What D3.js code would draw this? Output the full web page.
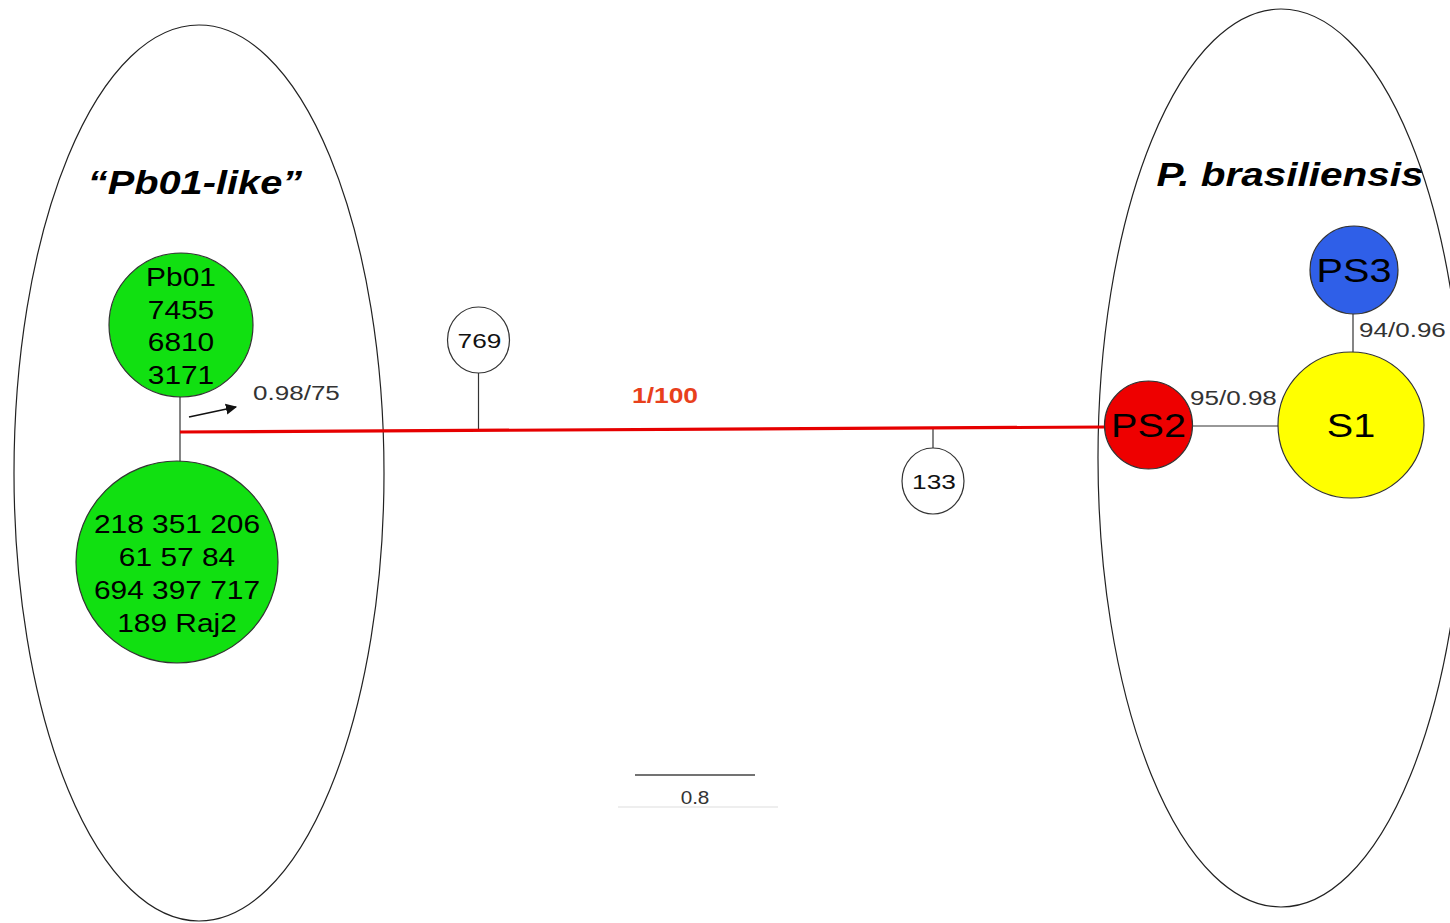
<!doctype html>
<html>
<head>
<meta charset="utf-8">
<title>Pb01-like vs P. brasiliensis</title>
<script src="https://cdn.jsdelivr.net/npm/d3@7"></script>
<style>
  body { margin:0; background:#fff; }
  text { font-family: "Liberation Sans", Arial, sans-serif; }
</style>
</head>
<body>
<script>
// ---- data ----
var groupNames = ["\u201CPb01-like\u201D", "P. brasiliensis"];
var pb01Top = ["Pb01", "7455", "6810", "3171"];
var pb01Bottom = ["218 351 206", "61 57 84", "694 397 717", "189 Raj2"];
var braNodes = ["PS2", "S1", "PS3"];
var braColors = ["#ee0000", "#ffff00", "#2f5fe8"];
var sideNodes = ["769", "133"];
var sidePos = [1.99, 5.02];        // distance along main branch
var mainBranch = 6.17;            // length of the red branch
var supportLabels = ["0.98/75", "1/100", "95/0.98", "94/0.96"];
var scaleBar = 0.8;

var w = 1450, h = 923;
var svg = d3.select("body").append("svg").attr("width", w).attr("height", h);

// branch length scale: 0.8 units = 120 px
var x = d3.scaleLinear().domain([0, 1]).range([0, 150]);
var x0 = 180;

// text in the original figure is a bit stretched sideways
function label(px, py, txt, fs, sx, anchor, fill, bold, italic) {
  return svg.append("text")
    .attr("transform", "translate(" + px + "," + py + ") scale(" + sx + ",1)")
    .attr("text-anchor", anchor)
    .attr("font-size", fs)
    .attr("font-weight", bold ? "bold" : "normal")
    .attr("font-style", italic ? "italic" : "normal")
    .attr("fill", fill)
    .text(txt);
}

// group ellipses
svg.append("ellipse").attr("cx", 199).attr("cy", 473).attr("rx", 185).attr("ry", 448)
   .attr("fill", "none").attr("stroke", "#222").attr("stroke-width", 1.2);
svg.append("ellipse").attr("cx", 1281).attr("cy", 458).attr("rx", 183).attr("ry", 449)
   .attr("fill", "none").attr("stroke", "#222").attr("stroke-width", 1.2);

label(195, 194, groupNames[0], 34, 1.17, "middle", "#000", true, true);
label(1290, 186, groupNames[1], 34, 1.19, "middle", "#000", true, true);

// left stem
svg.append("line").attr("x1", x0).attr("x2", x0).attr("y1", 396).attr("y2", 462)
   .attr("stroke", "#333").attr("stroke-width", 1.2);

// side nodes (769 above, 133 below)
var ySlope = function(v) { return 432 - v / mainBranch * 5; };
sideNodes.forEach(function(n, i) {
  var cx = x0 + x(sidePos[i]);
  var up = i == 0;
  var cy = up ? 340 : 481;
  svg.append("line").attr("x1", cx).attr("x2", cx)
     .attr("y1", up ? cy + 33 : ySlope(sidePos[i]) + 1)
     .attr("y2", up ? ySlope(sidePos[i]) : cy - 33)
     .attr("stroke", "#333").attr("stroke-width", 1.2);
  svg.append("ellipse").attr("cx", cx).attr("cy", cy).attr("rx", 31).attr("ry", 33)
     .attr("fill", "#fff").attr("stroke", "#333").attr("stroke-width", 1.2);
  label(cx + 1, cy + 8, n, 21, 1.25, "middle", "#111");
});

// main red branch
svg.append("line").attr("x1", x0).attr("y1", ySlope(0))
   .attr("x2", x0 + x(mainBranch)).attr("y2", ySlope(mainBranch))
   .attr("stroke", "#e60000").attr("stroke-width", 3.2);

label(665, 403, supportLabels[1], 22, 1.2, "middle", "#e8401c", true);

// arrow + support for Pb01-like
svg.append("defs").append("marker").attr("id", "ah").attr("viewBox", "0 0 10 10")
   .attr("refX", 9).attr("refY", 5).attr("markerWidth", 7).attr("markerHeight", 7)
   .attr("orient", "auto")
   .append("path").attr("d", "M0,0 L10,5 L0,10 z").attr("fill", "#111");
svg.append("line").attr("x1", 189).attr("y1", 417).attr("x2", 236).attr("y2", 407)
   .attr("stroke", "#111").attr("stroke-width", 1.6).attr("marker-end", "url(#ah)");
label(253, 400, supportLabels[0], 21, 1.24, "start", "#333");

// green clusters
function cluster(cx, cy, r, lines, fs, y0, step) {
  svg.append("circle").attr("cx", cx).attr("cy", cy).attr("r", r)
     .attr("fill", "#11e011").attr("stroke", "#333").attr("stroke-width", 1.2);
  lines.forEach(function(d, i) {
    label(cx, y0 + i * step, d, fs, 1.15, "middle", "#000");
  });
}
cluster(181, 325, 72, pb01Top, 26, 286, 32.5);
cluster(177, 562, 101, pb01Bottom, 26, 533, 33);

// P. brasiliensis nodes
var ps2 = {x: x0 + x(mainBranch) + 43, y: 425, r: 44};
var s1 = {x: 1351, y: 425, r: 73};
var ps3 = {x: 1354, y: 270, r: 44};
svg.append("line").attr("x1", ps2.x + ps2.r).attr("x2", s1.x - s1.r).attr("y1", 426).attr("y2", 426)
   .attr("stroke", "#333").attr("stroke-width", 1.2);
svg.append("line").attr("x1", 1353).attr("x2", 1353).attr("y1", ps3.y + ps3.r).attr("y2", s1.y - s1.r)
   .attr("stroke", "#333").attr("stroke-width", 1.2);
[ps2, s1, ps3].forEach(function(n, i) {
  svg.append("circle").attr("cx", n.x).attr("cy", n.y).attr("r", n.r)
     .attr("fill", braColors[i]).attr("stroke", "#333").attr("stroke-width", 1.2);
  label(n.x, n.y + 12, braNodes[i], 33, 1.2, "middle", "#000");
});
label(1190, 405, supportLabels[2], 21, 1.24, "start", "#333");
label(1359, 337, supportLabels[3], 21, 1.24, "start", "#333");

// scale bar
svg.append("line").attr("x1", 635).attr("x2", 635 + x(scaleBar)).attr("y1", 775).attr("y2", 775)
   .attr("stroke", "#444").attr("stroke-width", 1.6);
label(695, 804, scaleBar, 18, 1.15, "middle", "#333");
svg.append("line").attr("x1", 618).attr("x2", 778).attr("y1", 807).attr("y2", 807)
   .attr("stroke", "#ddd").attr("stroke-width", 1);
</script>
</body>
</html>
